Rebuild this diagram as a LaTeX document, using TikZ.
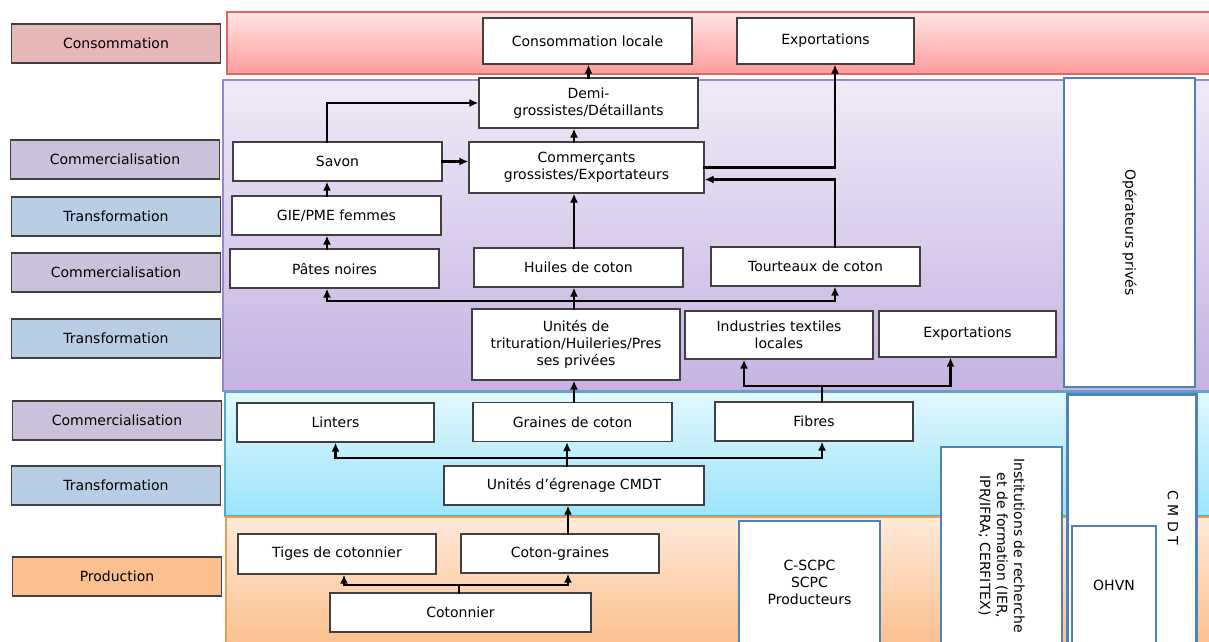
\documentclass[tikz,border=0pt]{standalone}
\usepackage{fontspec}
\setmainfont{DejaVu Sans}
\usetikzlibrary{arrows.meta}
\definecolor{rougehaut}{HTML}{FFE3E3}
\definecolor{rougebas}{HTML}{FF9C9C}
\definecolor{rougebord}{HTML}{E06666}
\definecolor{violethaut}{HTML}{EFEAF7}
\definecolor{violetbas}{HTML}{C5B2E2}
\definecolor{violetbord}{HTML}{9D86C9}
\definecolor{cyanhaut}{HTML}{E2F8FE}
\definecolor{cyanbas}{HTML}{9BE4FA}
\definecolor{cyanbord}{HTML}{4BACC6}
\definecolor{orangehaut}{HTML}{FFEADB}
\definecolor{orangebas}{HTML}{FBBE8A}
\definecolor{orangebord}{HTML}{F59A4F}
\definecolor{consof}{HTML}{E6B9B8}
\definecolor{commf}{HTML}{CCC1DA}
\definecolor{transf}{HTML}{B9CDE5}
\definecolor{prodf}{HTML}{FAC090}
\definecolor{bleuact}{HTML}{4F81BD}
\begin{document}
\begin{tikzpicture}[x=1pt,y=-1pt,font=\fontsize{14}{17}\selectfont]
		% les styles
		\tikzstyle{niveau}=[rectangle,draw=black!75,line width=1.2pt,minimum width=209pt,minimum height=39pt,inner sep=0pt]
		\tikzstyle{boite}=[rectangle,draw=black!75,fill=white,line width=1.2pt,minimum height=39pt,align=center,inner sep=0pt]
		\tikzstyle{acteur}=[rectangle,draw=bleuact,fill=white,line width=2pt,align=center,inner sep=0pt]
		\tikzstyle{bande}=[line width=1.5pt]
		\tikzstyle{ligne}=[line width=2.8pt,line cap=rect]
		\tikzstyle{flux}=[ligne,-{Latex[length=9pt,width=8pt]}]
		\useasboundingbox (0,0) rectangle (1209,641);
		% les bandes de fond
		\draw[bande,draw=rougebord,top color=rougehaut,bottom color=rougebas] (227,12) rectangle (1220,74);
		\draw[bande,draw=violetbord,top color=violethaut,bottom color=violetbas] (223,80) rectangle (1220,391);
		\draw[bande,draw=cyanbord,top color=cyanhaut,bottom color=cyanbas] (225,392) rectangle (1220,516);
		\draw[bande,draw=orangebord,top color=orangehaut,bottom color=orangebas] (226,517) rectangle (1220,650);
		% les niveaux
		\node[niveau,fill=consof] (nconso) at (116,43.5) {Consommation};
		\node[niveau,fill=commf] (ncomm1) at (115,159.5) {Commercialisation};
		\node[niveau,fill=transf] (ntrans1) at (116,216.5) {Transformation};
		\node[niveau,fill=commf] (ncomm2) at (116,272.5) {Commercialisation};
		\node[niveau,fill=transf] (ntrans2) at (116,338.5) {Transformation};
		\node[niveau,fill=commf] (ncomm3) at (117,420.5) {Commercialisation};
		\node[niveau,fill=transf] (ntrans3) at (116,485.5) {Transformation};
		\node[niveau,fill=prodf] (nprod) at (117,576.5) {Production};
		% les boîtes
		\node[boite,minimum width=209pt,minimum height=46pt] (conso) at (587.5,41) {Consommation locale};
		\node[boite,minimum width=177pt,minimum height=46pt] (exphaut) at (825.5,41) {Exportations};
		\node[boite,minimum width=219pt,minimum height=50pt] (demi) at (588.5,103) {Demi-\\grossistes/Détaillants};
		\node[boite,minimum width=235pt,minimum height=51pt] (grossistes) at (586.5,167.5) {Commerçants\\grossistes/Exportateurs};
		\node[boite,minimum width=209pt] (savon) at (337.5,161.5) {Savon};
		\node[boite,minimum width=209pt] (gie) at (336.5,215.5) {GIE/PME femmes};
		\node[boite,minimum width=209pt] (pates) at (334.5,268.5) {Pâtes noires};
		\node[boite,minimum width=209pt] (huiles) at (578.5,267.5) {Huiles de coton};
		\node[boite,minimum width=209pt] (tourteaux) at (815.5,266.5) {Tourteaux de coton};
		\node[boite,minimum width=208pt,minimum height=71pt] (trituration) at (576,344.5) {Unités de\\trituration/Huileries/Pres\\ses privées};
		\node[boite,minimum width=188pt,minimum height=48pt] (textiles) at (779,335) {Industries textiles\\locales};
		\node[boite,minimum width=177pt,minimum height=46pt] (expmilieu) at (967.5,334) {Exportations};
		\node[boite,minimum width=197pt] (linters) at (335.5,422.5) {Linters};
		\node[boite,minimum width=199pt] (graines) at (572.5,422) {Graines de coton};
		\node[boite,minimum width=198pt] (fibres) at (814,421.5) {Fibres};
		\node[boite,minimum width=260pt] (egrenage) at (574,485.5) {Unités d’égrenage CMDT};
		\node[boite,minimum width=198pt,minimum height=40pt] (tiges) at (337,554) {Tiges de cotonnier};
		\node[boite,minimum width=198pt] (cotongr) at (560,553.5) {Coton-graines};
		\node[boite,minimum width=261pt] (cotonnier) at (460.5,612.5) {Cotonnier};
		% les acteurs
		\node[acteur,rotate=-90,minimum width=309pt,minimum height=131pt] (operateurs) at (1129.5,232.5) {Opérateurs privés};
		\node[acteur,minimum width=141pt,minimum height=122pt] (scpc) at (809.5,582) {C-SCPC\\SCPC\\Producteurs};
		\node[acteur,rotate=-90,minimum width=197pt,minimum height=121pt] (institutions) at (1001.5,545.5) {Institutions de recherche\\et de formation (IER,\\IPR/IFRA; CERFITEX)};
		\node[acteur,line width=3pt,minimum width=129pt,minimum height=252pt] (cmdt) at (1131.5,520) {};
		\node[rotate=-90] (cmdtnom) at (1173,518) {C M D T};
		\node[acteur,minimum width=84pt,minimum height=119pt] (ohvn) at (1114,585.5) {OHVN};
		% les flèches
		\coordinate (axeg) at (327,0);
		\coordinate (axem) at (574,0);
		\coordinate (axeb) at (568,0);
		\coordinate (axed) at (835,0);
		\coordinate (nh) at (574,301);
		\coordinate (nf) at (822,386);
		\coordinate (ne) at (567,458);
		\coordinate (nc) at (459,585);
		\draw[flux] (savon.north -| axeg) |- (demi.west);
		\draw[flux] (savon.east) -- (savon.east -| grossistes.west);
		\draw[flux] (gie.north -| axeg) -- (savon.south -| axeg);
		\draw[flux] (pates.north -| axeg) -- (gie.south -| axeg);
		\draw[flux] (grossistes.north -| axem) -- (demi.south -| axem);
		\draw[flux] (demi.north) -- (demi.north |- conso.south);
		\draw[flux] (grossistes.east) -| (exphaut.south -| axed);
		\draw[flux] (tourteaux.north -| axed) |- ([yshift=-12pt]grossistes.east);
		\draw[flux] (huiles.north -| axem) -- (grossistes.south -| axem);
		\draw[ligne] (trituration.north -| nh) -- (nh);
		\draw[flux] (nh) -| (pates.south -| axeg);
		\draw[flux] (nh) -- (huiles.south -| nh);
		\draw[flux] (nh) -| (tourteaux.south -| axed);
		\draw[flux] (graines.north -| axem) -- (trituration.south -| axem);
		\draw[ligne] (fibres.north -| nf) -- (nf);
		\draw[flux] (nf) -| ([xshift=-35pt]textiles.south);
		\draw[flux] (nf) -| ([xshift=-17pt]expmilieu.south);
		\draw[ligne] (egrenage.north -| ne) -- (ne);
		\draw[flux] (ne) -| (linters.south);
		\draw[flux] (ne) -- (graines.south -| ne);
		\draw[flux] (ne) -| ([xshift=8pt]fibres.south);
		\draw[flux] (cotongr.north -| axeb) -- (egrenage.south -| axeb);
		\draw[ligne] (cotonnier.north -| nc) -- (nc);
		\draw[flux] (nc) -| ([xshift=7pt]tiges.south);
		\draw[flux] (nc) -| (cotongr.south -| axeb);
	\end{tikzpicture}
\end{document}
